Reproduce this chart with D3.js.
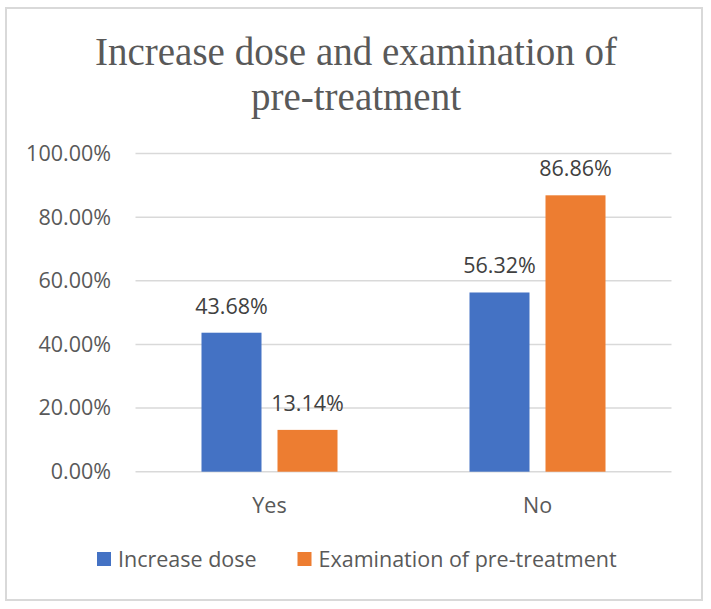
<!DOCTYPE html>
<html>
<head>
<meta charset="utf-8">
<script src="https://cdn.jsdelivr.net/npm/d3@7"></script>
<style>
  html, body { margin: 0; padding: 0; background: #ffffff; }
  svg { display: block; }
</style>
</head>
<body>
<svg id="chart" width="711" height="609"></svg>
<script>
const titleLines = ["Increase dose and examination of", "pre-treatment"];
const categories = ["Yes", "No"];
const seriesNames = ["Increase dose", "Examination of pre-treatment"];
const increaseDose = [43.68, 56.32];
const examinationPreTreatment = [13.14, 86.86];
const yTicks = [0, 20, 40, 60, 80, 100];
const seriesColors = ["#4472C4", "#ED7D31"];

const seriesValues = [increaseDose, examinationPreTreatment];
const data = categories.map((c, i) => ({
  category: c,
  values: seriesNames.map((s, j) => ({ series: s, value: seriesValues[j][i], color: seriesColors[j] }))
}));

const svg = d3.select("#chart");
const sansFont = "'Open Sans', 'Liberation Sans', sans-serif";
const sansSize = 21.5;

// chart border
svg.append("rect")
  .attr("x", 6).attr("y", 8)
  .attr("width", 696).attr("height", 592)
  .attr("fill", "#ffffff")
  .attr("stroke", "#d9d9d9")
  .attr("stroke-width", 2);

// title
const title = svg.append("text")
  .attr("text-anchor", "middle")
  .attr("font-family", "'Liberation Serif', 'Times New Roman', serif")
  .attr("font-size", 39)
  .attr("fill", "#595959");
titleLines.forEach((t, i) => {
  title.append("tspan").attr("x", 356).attr("y", 65 + i * 45).text(t);
});

const plotLeft = 135.5, plotRight = 671.5, plotTop = 153.5, plotBottom = 471.7;

const x0 = d3.scaleBand()
  .domain(categories)
  .range([plotLeft, plotRight])
  .paddingInner(0.4925)
  .paddingOuter(0.24625);

const x1 = d3.scaleBand()
  .domain(seriesNames)
  .range([0, x0.bandwidth()])
  .paddingInner(0.2105)
  .paddingOuter(0);

const y = d3.scaleLinear()
  .domain([0, 100])
  .range([plotBottom, plotTop]);

// gridlines
svg.append("g")
  .selectAll("line")
  .data(yTicks)
  .join("line")
  .attr("x1", plotLeft).attr("x2", plotRight)
  .attr("y1", d => y(d)).attr("y2", d => y(d))
  .attr("stroke", "#d9d9d9")
  .attr("stroke-width", 1.5);

// y axis labels
const yAxis = d3.axisLeft(y)
  .tickValues(yTicks)
  .tickFormat(d => d.toFixed(2) + "%")
  .tickSize(0)
  .tickPadding(0);
const yg = svg.append("g")
  .attr("transform", `translate(111,0)`)
  .call(yAxis);
yg.select(".domain").remove();
yg.selectAll("text")
  .attr("font-family", sansFont)
  .attr("font-size", sansSize)
  .attr("fill", "#595959");

// x axis labels
const xAxis = d3.axisBottom(x0).tickSize(0).tickPadding(0);
const xg = svg.append("g")
  .attr("transform", `translate(0,${plotBottom})`)
  .call(xAxis);
xg.select(".domain").remove();
xg.selectAll("text")
  .attr("font-family", sansFont)
  .attr("font-size", sansSize)
  .attr("fill", "#595959")
  .attr("dy", null)
  .attr("y", 41);

// bars
const groups = svg.append("g")
  .selectAll("g")
  .data(data)
  .join("g")
  .attr("transform", d => `translate(${x0(d.category)},0)`);

groups.selectAll("rect")
  .data(d => d.values)
  .join("rect")
  .attr("x", d => x1(d.series))
  .attr("width", x1.bandwidth())
  .attr("y", d => y(d.value))
  .attr("height", d => y(0) - y(d.value))
  .attr("fill", d => d.color);

groups.selectAll("text")
  .data(d => d.values)
  .join("text")
  .attr("x", d => x1(d.series) + x1.bandwidth() / 2)
  .attr("y", d => y(d.value) - 19)
  .attr("text-anchor", "middle")
  .attr("font-family", sansFont)
  .attr("font-size", sansSize)
  .attr("fill", "#404040")
  .text(d => d.value.toFixed(2) + "%");

// legend
const legendPos = [97, 297.5];
const legend = svg.append("g")
  .selectAll("g")
  .data(seriesNames)
  .join("g")
  .attr("transform", (d, i) => `translate(${legendPos[i]},552)`);
legend.append("rect")
  .attr("width", 14).attr("height", 14)
  .attr("fill", (d, i) => seriesColors[i]);
legend.append("text")
  .attr("x", 21).attr("y", 14.5)
  .attr("font-family", sansFont)
  .attr("font-size", sansSize)
  .attr("fill", "#595959")
  .text(d => d);
</script>
</body>
</html>
